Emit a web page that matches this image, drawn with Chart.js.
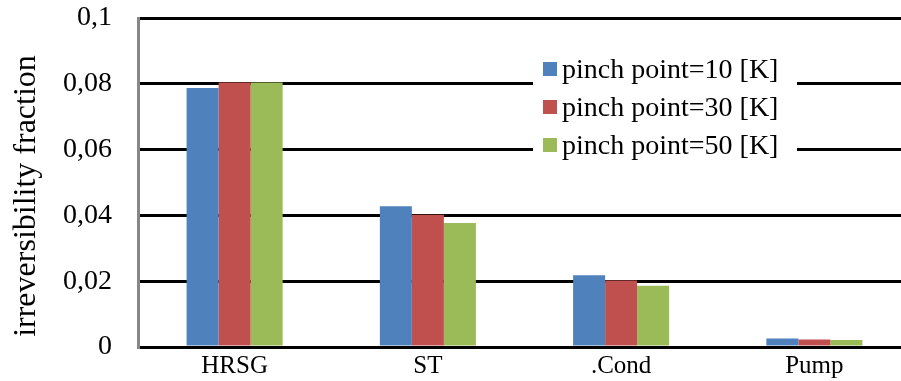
<!DOCTYPE html>
<html>
<head>
<meta charset="utf-8">
<script src="https://cdn.jsdelivr.net/npm/chart.js@4/dist/chart.umd.min.js"></script>
<style>
  html, body { margin: 0; padding: 0; background: #ffffff; overflow: hidden; width: 901px; height: 381px; }
  canvas { display: block; }
</style>
</head>
<body>
<!-- the plot runs a little past the right edge of the page -->
<canvas id="chart" width="912" height="381"></canvas>
<script>
// Irreversibility fraction per component for three pinch point temperature differences
const categories = ['HRSG', 'ST', '.Cond', 'Pump'];
const seriesNames = ['pinch point=10 [K]', 'pinch point=30 [K]', 'pinch point=50 [K]'];
const pinch10 = [0.0787, 0.0428, 0.0218, 0.0026];
const pinch30 = [0.0804, 0.0402, 0.0202, 0.0023];
const pinch50 = [0.0804, 0.0377, 0.0186, 0.0021];
const yMin = 0, yMax = 0.1, yStep = 0.02;
const yTitle = 'irreversibility fraction';

const colors = ['#4F81BD', '#C0504D', '#9BBB59'];
const serif = "'Liberation Serif', 'Times New Roman', serif";

// Legend drawn inside the plot on a white panel, plus the rotated axis title
const boxedLegend = {
  id: 'boxedLegend',
  afterDraw(chart) {
    const ctx = chart.ctx;
    ctx.save();
    ctx.fillStyle = '#ffffff';
    ctx.fillRect(533, 52, 264, 112);
    ctx.font = '28px ' + serif;
    ctx.textBaseline = 'middle';
    chart.data.datasets.forEach((ds, i) => {
      const cy = 69 + i * 38;
      ctx.fillStyle = ds.backgroundColor;
      ctx.fillRect(543, cy - 7, 14, 14);
      ctx.fillStyle = '#000000';
      ctx.fillText(ds.label, 562, cy + 2);
    });
    ctx.restore();

    ctx.save();
    ctx.translate(27, 196);
    ctx.rotate(-Math.PI / 2);
    ctx.font = '32px ' + serif;
    ctx.fillStyle = '#000000';
    ctx.textAlign = 'center';
    ctx.textBaseline = 'middle';
    ctx.fillText(yTitle, 0, 0);
    ctx.restore();
  }
};

new Chart(document.getElementById('chart'), {
  type: 'bar',
  data: {
    labels: categories,
    datasets: [
      { label: seriesNames[0], data: pinch10, backgroundColor: colors[0] },
      { label: seriesNames[1], data: pinch30, backgroundColor: colors[1] },
      { label: seriesNames[2], data: pinch50, backgroundColor: colors[2] }
    ]
  },
  options: {
    responsive: false,
    animation: false,
    devicePixelRatio: 1,
    layout: { padding: { top: 18, right: 1, left: 0, bottom: 0 } },
    datasets: { bar: { categoryPercentage: 0.497, barPercentage: 1.0 } },
    plugins: { legend: { display: false }, tooltip: { enabled: false } },
    scales: {
      x: {
        grid: { display: false, drawTicks: false },
        border: { display: true, color: '#000000', width: 3 },
        ticks: { color: '#000000', font: { family: serif, size: 25 }, padding: 4, maxRotation: 0 },
        afterFit(scale) {
          scale.height = 34;
          scale.paddingLeft = 0; scale.paddingRight = 0;
        }
      },
      y: {
        min: yMin, max: yMax,
        grid: { color: '#000000', lineWidth: 3, drawTicks: false },
        border: { display: true, color: '#878787', width: 3 },
        ticks: {
          stepSize: yStep,
          color: '#000000',
          font: { family: serif, size: 28 },
          padding: 26,
          callback: v => String(Number(v.toFixed(2))).replace('.', ',')
        },
        afterFit(scale) {
          scale.width = 138;
          scale.paddingTop = 0; scale.paddingBottom = 0;
        }
      }
    }
  },
  plugins: [boxedLegend]
});
</script>
</body>
</html>
